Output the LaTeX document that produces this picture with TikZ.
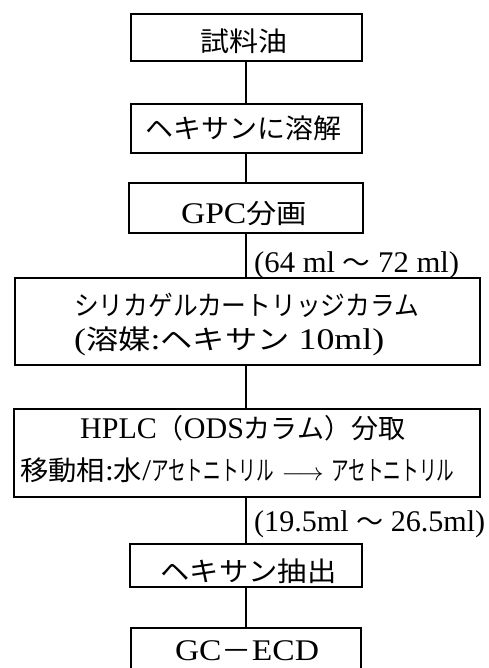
\documentclass[tikz,border=0pt]{standalone}
\usepackage{graphicx}
\usepackage{fontspec}
\setmainfont{Liberation Serif}
\newfontfamily\cjk{Noto Sans CJK JP}
\newcommand\jp[1]{{\cjk\fontsize{27}{30}\selectfont #1}}
\newcommand\fw[2]{\resizebox{#1}{\height}{#2}}
\begin{document}
\begin{tikzpicture}[x=1pt,y=-1pt,
  box/.style={draw, line width=2pt, inner sep=0pt},
  conn/.style={line width=2.4pt},
  txt/.style={inner sep=0pt, font=\fontsize{30}{34}\selectfont}]
\useasboundingbox (0,0) rectangle (488,668);
\clip (0,0) rectangle (488,668);
% boxes
\node[box, minimum width=231pt, minimum height=47pt] (b1) at (246,37.5) {};
\node[box, minimum width=231pt, minimum height=49pt] (b2) at (246,128.5) {};
\node[box, minimum width=234pt, minimum height=50pt] (b3) at (246,208) {};
\node[box, minimum width=465pt, minimum height=87pt] (b4) at (247.5,321.5) {};
\node[box, minimum width=466pt, minimum height=88pt] (b5) at (247,453) {};
\node[box, minimum width=232pt, minimum height=43pt] (b6) at (246,565.5) {};
\node[box, minimum width=230pt, minimum height=72pt] (b7) at (246,664) {};
% texts
\node[txt] (t1) at (244,41) {\fw{87pt}{\jp{試料油}}};
\node[txt] (t2) at (243.5,128) {\fw{196pt}{\jp{ヘキサンに溶解}}};
\node[txt] (t3) at (244,214) {\fw{126pt}{GPC\jp{分画}}};
\node[txt, anchor=west] (t4a) at (74,305) {\fw{345pt}{\jp{シリカゲルカートリッジカラム}}};
\node[txt, anchor=west] (t4b) at (74,341) {\fw{310pt}{(\jp{溶媒}:\jp{ヘキサン} 10ml)}};
\node[txt, anchor=west] (t5a) at (80,428) {\fw{325pt}{HPLC\jp{（}ODS\jp{カラム）分取}}};
\node[txt, anchor=west] (t5b) at (20,470) {\fw{434pt}{\jp{移動相}:\jp{水}/\scalebox{0.62}[1]{\jp{アセトニトリル}} $\longrightarrow$ \scalebox{0.62}[1]{\jp{アセトニトリル}}}};
\node[txt] (t6) at (248.5,571) {\fw{176pt}{\jp{ヘキサン抽出}}};
\node[txt] (t7) at (247,651) {\fw{144pt}{GC\jp{－}ECD}};
% connector labels
\node[txt, anchor=west] (l1) at (254,265) {\fw{205pt}{(64 ml \jp{〜} 72 ml)}};
\node[txt, anchor=west] (l2) at (254,524) {\fw{231pt}{(19.5ml \jp{〜} 26.5ml)}};
% connectors
\draw[conn] (b1.south) -- (b1.south |- b2.north);
\draw[conn] (b2.south) -- (b2.south |- b3.north);
\draw[conn] (b3.south) -- (b3.south |- b4.north);
\draw[conn] (b4.south -| b3.south) -- (b3.south |- b5.north);
\draw[conn] (b5.south -| b3.south) -- (b3.south |- b6.north);
\draw[conn] (b6.south) -- (b6.south |- b7.north);
\end{tikzpicture}
\end{document}
